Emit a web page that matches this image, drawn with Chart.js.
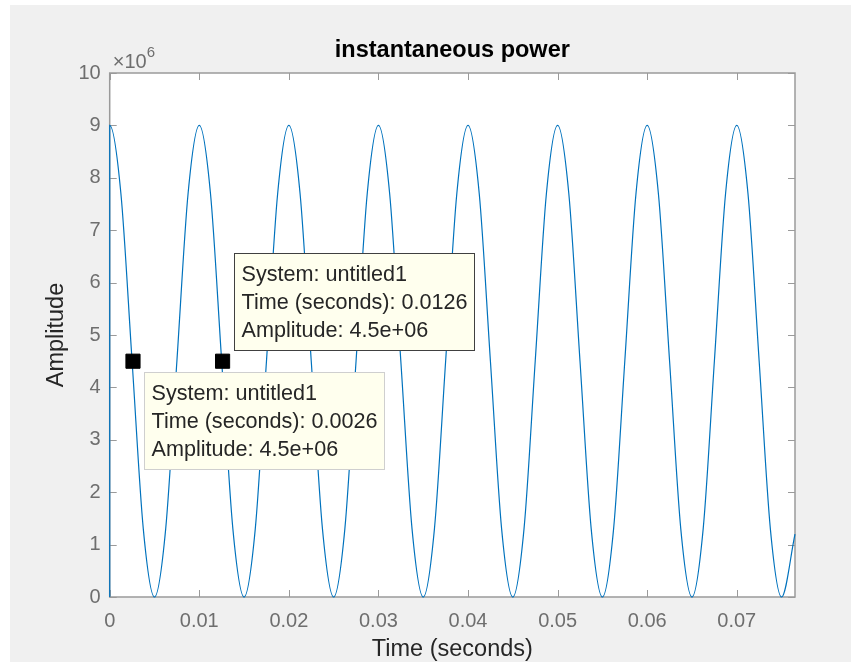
<!DOCTYPE html>
<html>
<head>
<meta charset="utf-8">
<script src="https://cdn.jsdelivr.net/npm/chart.js@4.4.1/dist/chart.umd.min.js"></script>
<style>
  html, body { margin: 0; padding: 0; background: #ffffff; }
  canvas { display: block; }
</style>
</head>
<body>
<canvas id="powerChart" width="851" height="662"></canvas>
<script>
// time samples (s) and amplitude (x 10^6)
const times = [
  0,
  0, 0.00125, 0.0025, 0.00375, 0.005, 0.00625, 0.0075, 0.00875,
  0.01, 0.01125, 0.0125, 0.01375, 0.015, 0.01625, 0.0175, 0.01875,
  0.02, 0.02125, 0.0225, 0.02375, 0.025, 0.02625, 0.0275, 0.02875,
  0.03, 0.03125, 0.0325, 0.03375, 0.035, 0.03625, 0.0375, 0.03875,
  0.04, 0.04125, 0.0425, 0.04375, 0.045, 0.04625, 0.0475, 0.04875,
  0.05, 0.05125, 0.0525, 0.05375, 0.055, 0.05625, 0.0575, 0.05875,
  0.06, 0.06125, 0.0625, 0.06375, 0.065, 0.06625, 0.0675, 0.06875,
  0.07, 0.07125, 0.0725, 0.07375, 0.075, 0.0765
];
const amplitude = [
  0,
  9, 7.7, 4.5, 1.3, 0, 1.3, 4.5, 7.7,
  9, 7.7, 4.5, 1.3, 0, 1.3, 4.5, 7.7,
  9, 7.7, 4.5, 1.3, 0, 1.3, 4.5, 7.7,
  9, 7.7, 4.5, 1.3, 0, 1.3, 4.5, 7.7,
  9, 7.7, 4.5, 1.3, 0, 1.3, 4.5, 7.7,
  9, 7.7, 4.5, 1.3, 0, 1.3, 4.5, 7.7,
  9, 7.7, 4.5, 1.3, 0, 1.3, 4.5, 7.7,
  9, 7.7, 4.5, 1.3, 0, 1.2
];

// data tips
const tipSystems = ['untitled1', 'untitled1'];
const tipTimes = [0.0026, 0.0126];
const tipAmps = [4.5e6, 4.5e6];

// axis ticks
const xTicks = [0, 0.01, 0.02, 0.03, 0.04, 0.05, 0.06, 0.07];
const yTicks = [0, 1, 2, 3, 4, 5, 6, 7, 8, 9, 10];
const xMax = 0.0765;

const FONT = 'Helvetica, Arial, "Liberation Sans", sans-serif';
const axisGray = '#9a9a9a';
const tickGray = '#6e6e6e';
const textDark = '#262626';

function fmtG(v) {
  const parts = v.toExponential().split('e');
  const n = Math.abs(+parts[1]);
  return parts[0] + 'e' + (parts[1][0] === '-' ? '-' : '+') + (n < 10 ? '0' : '') + n;
}

// figure background, plot box, inward ticks, titles
const matlabFrame = {
  id: 'matlabFrame',
  beforeDraw(chart) {
    const { ctx, chartArea: a } = chart;
    ctx.save();
    ctx.fillStyle = '#ffffff';
    ctx.fillRect(0, 0, chart.width, chart.height);
    ctx.fillStyle = '#f0f0f0';
    ctx.fillRect(10, 5, chart.width - 10, chart.height - 5);
    ctx.fillStyle = '#ffffff';
    ctx.fillRect(a.left, a.top, a.right - a.left, a.bottom - a.top);
    ctx.restore();
  },
  beforeDatasetsDraw(chart) {
    const { ctx, chartArea: a, scales } = chart;
    ctx.save();
    ctx.strokeStyle = axisGray;
    ctx.lineWidth = 1.5;
    ctx.strokeRect(a.left, a.top, a.right - a.left, a.bottom - a.top);
    ctx.lineWidth = 1;
    ctx.beginPath();
    const tl = 7;
    xTicks.forEach(v => {
      const px = Math.round(scales.x.getPixelForValue(v)) + 0.5;
      ctx.moveTo(px, a.bottom); ctx.lineTo(px, a.bottom - tl);
      ctx.moveTo(px, a.top); ctx.lineTo(px, a.top + tl);
    });
    yTicks.forEach(v => {
      const py = Math.round(scales.y.getPixelForValue(v)) + 0.5;
      ctx.moveTo(a.left, py); ctx.lineTo(a.left + tl, py);
      ctx.moveTo(a.right, py); ctx.lineTo(a.right - tl, py);
    });
    ctx.stroke();

    const cx = (a.left + a.right) / 2;
    ctx.fillStyle = '#000000';
    ctx.font = 'bold 23.5px ' + FONT;
    ctx.textAlign = 'center';
    ctx.textBaseline = 'alphabetic';
    ctx.fillText('instantaneous power', cx, 57);

    ctx.fillStyle = textDark;
    ctx.font = '23.5px ' + FONT;
    ctx.fillText('Time (seconds)', cx, 656);

    ctx.save();
    ctx.translate(63, (a.top + a.bottom) / 2);
    ctx.rotate(-Math.PI / 2);
    ctx.fillText('Amplitude', 0, 0);
    ctx.restore();

    // exponent label
    ctx.fillStyle = tickGray;
    ctx.textAlign = 'left';
    ctx.font = '20px ' + FONT;
    ctx.fillText('\u00d710', a.left + 3, 68);
    const w = ctx.measureText('\u00d710').width;
    ctx.font = '15px ' + FONT;
    ctx.fillText('6', a.left + 3 + w, 57);
    ctx.restore();
  },
  afterDatasetsDraw(chart) {
    const { ctx, scales } = chart;
    const place = ['below', 'above'];
    ctx.save();
    ctx.font = '21.6px ' + FONT;
    tipTimes.forEach((t, i) => {
      const px = scales.x.getPixelForValue(t);
      const py = scales.y.getPixelForValue(tipAmps[i] / 1e6);
      const lines = [
        'System: ' + tipSystems[i],
        'Time (seconds): ' + t,
        'Amplitude: ' + fmtG(tipAmps[i])
      ];
      const tw = Math.max(...lines.map(s => ctx.measureText(s).width));
      const bw = Math.round(tw + 14);
      const bh = 97;
      const bx = Math.round(px + 11) + 0.5;
      const by = place[i] === 'below' ? Math.round(py + 11) + 0.5 : Math.round(py - 11 - bh) + 0.5;
      ctx.fillStyle = '#ffffee';
      ctx.fillRect(bx, by, bw, bh);
      ctx.lineWidth = 1;
      ctx.strokeStyle = place[i] === 'below' ? '#cfcfcf' : '#404040';
      ctx.strokeRect(bx, by, bw, bh);
      ctx.fillStyle = textDark;
      ctx.textAlign = 'left';
      ctx.textBaseline = 'middle';
      lines.forEach((s, k) => ctx.fillText(s, bx + 7, by + 22 + k * 28));
    });
    ctx.restore();
  }
};

const ctx = document.getElementById('powerChart').getContext('2d');
new Chart(ctx, {
  type: 'scatter',
  data: {
    datasets: [{
      label: 'untitled1',
      data: times.map((t, i) => ({ x: t, y: amplitude[i] })),
      showLine: true,
      borderColor: '#0072BD',
      borderWidth: 1.2,
      pointRadius: 0,
      cubicInterpolationMode: 'monotone',
      clip: 3,
      order: 2
    }, {
      label: 'data tips',
      data: tipTimes.map((t, i) => ({ x: t, y: tipAmps[i] / 1e6 })),
      showLine: false,
      pointStyle: 'rect',
      pointRadius: 10,
      backgroundColor: '#000000',
      borderColor: '#000000',
      borderWidth: 1,
      clip: false,
      order: 1
    }]
  },
  options: {
    responsive: false,
    animation: false,
    devicePixelRatio: 1,
    layout: { padding: { left: 0, right: 56, top: 73, bottom: 0 } },
    plugins: {
      legend: { display: false },
      tooltip: { enabled: false },
      title: { display: false }
    },
    scales: {
      x: {
        type: 'linear',
        min: 0,
        max: xMax,
        grid: { display: false, drawTicks: false },
        border: { display: false },
        afterBuildTicks: s => { s.ticks = xTicks.map(v => ({ value: v })); },
        afterFit: s => { s.height = 65; },
        ticks: {
          autoSkip: false,
          maxRotation: 0,
          padding: 12,
          color: tickGray,
          font: { family: FONT, size: 20 },
          callback: v => String(Number(v.toFixed(4)))
        }
      },
      y: {
        type: 'linear',
        min: 0,
        max: 10,
        grid: { display: false, drawTicks: false },
        border: { display: false },
        afterBuildTicks: s => { s.ticks = yTicks.map(v => ({ value: v })); },
        afterFit: s => { s.width = 109.7; },
        ticks: {
          autoSkip: false,
          padding: 9,
          color: tickGray,
          font: { family: FONT, size: 20 },
          callback: v => String(v)
        }
      }
    }
  },
  plugins: [matlabFrame]
});
</script>
</body>
</html>
